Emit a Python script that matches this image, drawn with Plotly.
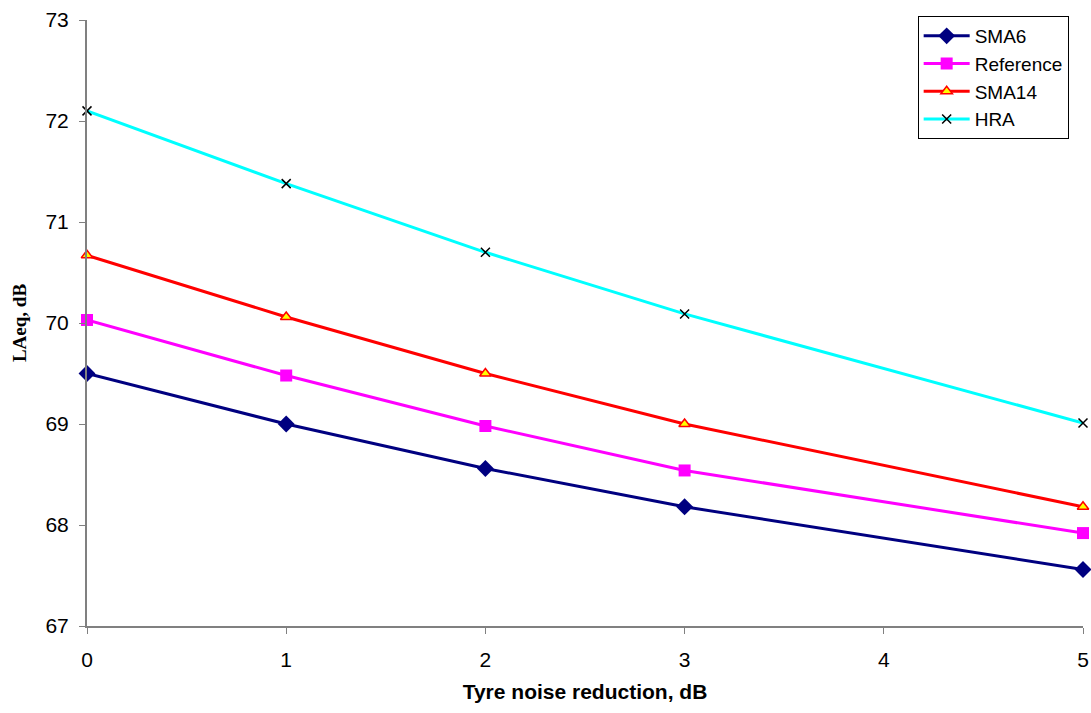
import plotly.graph_objects as go

x_vals = [0, 1, 2, 3, 5]
sma6 = [69.50, 69.00, 68.56, 68.18, 67.56]
reference = [70.03, 69.48, 68.98, 68.54, 67.92]
sma14 = [70.67, 70.06, 69.50, 69.00, 68.18]
hra = [72.10, 71.38, 70.70, 70.09, 69.01]

x_ticks = [0, 1, 2, 3, 4, 5]
y_ticks = [67, 68, 69, 70, 71, 72, 73]

fig = go.Figure()
fig.add_trace(go.Scatter(x=x_vals, y=sma6, name="SMA6", mode="lines+markers",
                         line=dict(color="#000080", width=3), cliponaxis=False,
                         marker=dict(symbol="diamond", size=13, color="#000080")))
fig.add_trace(go.Scatter(x=x_vals, y=reference, name="Reference", mode="lines+markers",
                         line=dict(color="#FF00FF", width=3), cliponaxis=False,
                         marker=dict(symbol="square", size=12, color="#FF00FF")))
fig.add_trace(go.Scatter(x=x_vals, y=sma14, name="SMA14", mode="lines+markers",
                         line=dict(color="#FF0000", width=3), cliponaxis=False,
                         marker=dict(symbol="triangle-up", size=10, color="#FFFF00",
                                     line=dict(color="#FF0000", width=1.5))))
fig.add_trace(go.Scatter(x=x_vals, y=hra, name="HRA", mode="lines+markers",
                         line=dict(color="#00FFFF", width=3), cliponaxis=False,
                         marker=dict(symbol="x-thin", size=9, color="#000000",
                                     line=dict(color="#000000", width=1.5))))

fig.update_layout(
    width=1091, height=713,
    margin=dict(l=87, r=8, t=20, b=87, autoexpand=False),
    paper_bgcolor="white", plot_bgcolor="white",
    font=dict(family="Liberation Sans, Arial, sans-serif", size=21, color="black"),
    showlegend=True,
    legend=dict(x=0.834, y=1.0066, xanchor="left", yanchor="top",
                bgcolor="white", bordercolor="black", borderwidth=1,
                font=dict(size=19), tracegroupgap=0, itemwidth=46,
                entrywidth=160, entrywidthmode="pixels"),
    xaxis=dict(range=[0, 5], tickvals=x_ticks, showgrid=False, zeroline=False,
               automargin=False,
               showline=True, linecolor="#808080", linewidth=2,
               ticks="outside", ticklen=6, tickcolor="#808080", tickwidth=1,
               ticklabelstandoff=8, tickfont=dict(size=21),
               title=dict(text="<b>Tyre noise reduction, dB</b>",
                          font=dict(size=21), standoff=14)),
    yaxis=dict(range=[67, 73], tickvals=y_ticks, showgrid=False, zeroline=False,
               automargin=False,
               showline=True, linecolor="#808080", linewidth=2,
               ticks="outside", ticklen=6, tickcolor="#808080", tickwidth=1,
               ticklabelstandoff=6, tickfont=dict(size=21),
               title=dict(text="<b>LAeq, dB</b>",
                          font=dict(family="Liberation Serif, Times New Roman, serif", size=19),
                          standoff=14)),
)

fig.write_html(
    "out.html",
    config={"displayModeBar": False},
    post_script="document.body.style.margin='0';document.body.style.overflow='hidden';",
)
